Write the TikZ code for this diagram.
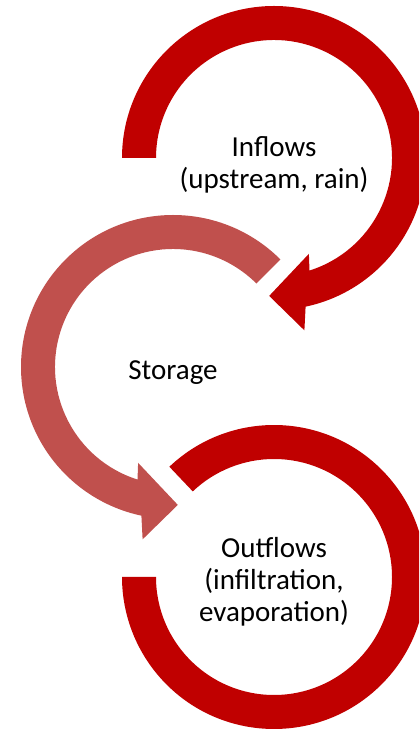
\documentclass[tikz,border=0pt]{standalone}
\usepackage{fontspec}
\setmainfont{Carlito}
\usetikzlibrary{calc}
\definecolor{darkred}{HTML}{C00000}
\definecolor{storred}{HTML}{C0504D}
\begin{document}
\begin{tikzpicture}[x=0.75pt,y=0.75pt,
  txt/.style={align=center, font=\fontsize{21.75pt}{24pt}\selectfont, text=black, inner sep=0pt}]
\useasboundingbox (0,0) rectangle (419,732);
\clip (0,0) rectangle (419,732);
\coordinate (T) at (274,574);
\coordinate (S) at (173,365);
\coordinate (O) at (274,155);
% Inflows arrow
\fill[darkred] ($(T)+(180:152)$) arc[start angle=180, end angle=-78, radius=152]
  -- ($(T)+(-80:175)$) -- ($(T)+(-92:138)$) -- ($(T)+(-70:102)$)
  -- ($(T)+(-72.5:118)$) arc[start angle=-72.5, end angle=180, radius=118] -- cycle;
% Storage arrow
\fill[storred] ($(S)+(45:152)$) arc[start angle=45, end angle=258, radius=152]
  -- ($(S)+(260:175)$) -- ($(S)+(272:138)$) -- ($(S)+(250:102)$)
  -- ($(S)+(252.5:118)$) arc[start angle=252.5, end angle=45, radius=118] -- cycle;
% Outflows ring
\fill[darkred] ($(O)+(133.5:152)$) arc[start angle=133.5, end angle=-180, radius=152]
  -- ($(O)+(180:118)$) arc[start angle=-180, end angle=133.5, radius=118] -- cycle;
\node[txt] (inflows) at ($(T)+(0,-7)$) {Inflows\\(upstream, rain)};
\node[txt] (storage) at ($(S)+(0,-6)$) {Storage};
\node[txt] (outflows) at ($(O)+(0,-5)$) {Outflows\\(infiltration,\\evaporation)};
\end{tikzpicture}
\end{document}
